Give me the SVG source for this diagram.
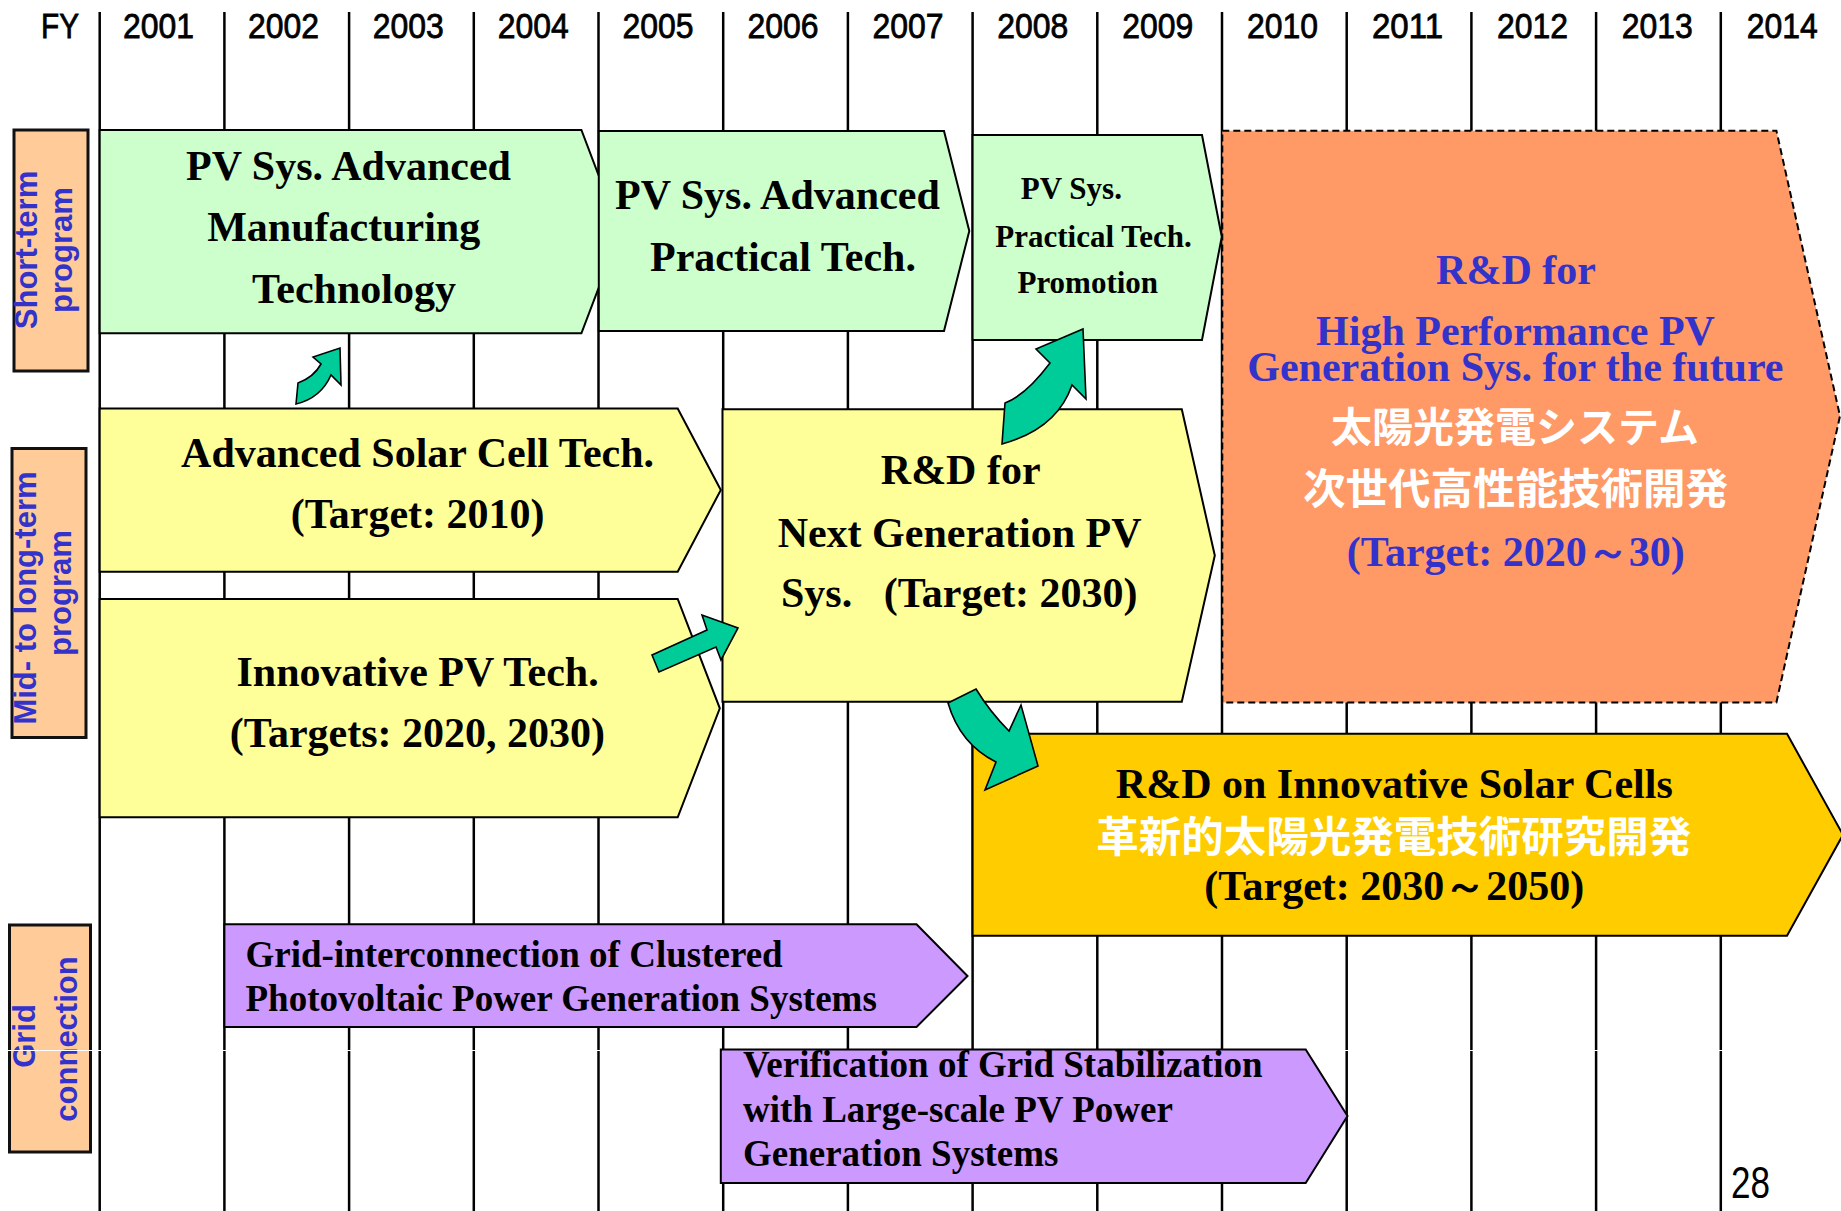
<svg xmlns="http://www.w3.org/2000/svg" width="1841" height="1211" viewBox="0 0 1841 1211">
  <style>
    .yr { font-family: "Liberation Sans", Arial, sans-serif; font-size: 35px; fill: #000; stroke: #000; stroke-width: 0.8; text-anchor: middle; }
    .gl { stroke: #000; stroke-width: 2.5; }
    .lane { fill: #FFCC99; stroke: #111; stroke-width: 3; }
    .lanetxt { font-family: "Liberation Sans", Arial, sans-serif; font-weight: bold; font-size: 31px; fill: #3333CC; text-anchor: middle; }
    .box { stroke: #000; stroke-width: 2; stroke-linejoin: miter; }
    .green { fill: #CCFFCC; }
    .yellow { fill: #FFFF99; }
    .orange { fill: #FF9966; stroke-dasharray: 7 4; }
    .gold { fill: #FFCC00; }
    .purple { fill: #CC99FF; }
    .tb { font-family: "Liberation Serif", "Times New Roman", serif; font-weight: bold; font-size: 42px; fill: #000; text-anchor: middle; }
    .tbs { font-size: 31px; }
    .tbp { font-size: 37px; text-anchor: start; }
    .blue { fill: #3333CC; }
    .jp { font-family: "Noto Sans CJK JP", "Noto Sans CJK SC", sans-serif; font-weight: bold; fill: #FFFFFF; text-anchor: middle; }
    .flow { fill: #00CC99; stroke: #000; stroke-width: 1.6; stroke-linejoin: miter; }
  </style>

  <rect x="0" y="0" width="1841" height="1211" fill="#FFFFFF"/>

  <!-- fiscal-year header -->
  <g id="year-header">
    <text class="yr" x="60" y="38" textLength="38" lengthAdjust="spacingAndGlyphs">FY</text>
    <text class="yr" x="158.5" y="38" textLength="71" lengthAdjust="spacingAndGlyphs">2001</text>
    <text class="yr" x="283.4" y="38" textLength="71" lengthAdjust="spacingAndGlyphs">2002</text>
    <text class="yr" x="408.3" y="38" textLength="71" lengthAdjust="spacingAndGlyphs">2003</text>
    <text class="yr" x="533.2" y="38" textLength="71" lengthAdjust="spacingAndGlyphs">2004</text>
    <text class="yr" x="658.1" y="38" textLength="71" lengthAdjust="spacingAndGlyphs">2005</text>
    <text class="yr" x="783.0" y="38" textLength="71" lengthAdjust="spacingAndGlyphs">2006</text>
    <text class="yr" x="907.9" y="38" textLength="71" lengthAdjust="spacingAndGlyphs">2007</text>
    <text class="yr" x="1032.8" y="38" textLength="71" lengthAdjust="spacingAndGlyphs">2008</text>
    <text class="yr" x="1157.7" y="38" textLength="71" lengthAdjust="spacingAndGlyphs">2009</text>
    <text class="yr" x="1282.6" y="38" textLength="71" lengthAdjust="spacingAndGlyphs">2010</text>
    <text class="yr" x="1407.5" y="38" textLength="71" lengthAdjust="spacingAndGlyphs">2011</text>
    <text class="yr" x="1532.4" y="38" textLength="71" lengthAdjust="spacingAndGlyphs">2012</text>
    <text class="yr" x="1657.3" y="38" textLength="71" lengthAdjust="spacingAndGlyphs">2013</text>
    <text class="yr" x="1782.2" y="38" textLength="71" lengthAdjust="spacingAndGlyphs">2014</text>
  </g>

  <!-- year dividers -->
  <g id="grid">
    <line class="gl" x1="99.7" y1="12" x2="99.7" y2="1211"/>
    <line class="gl" x1="224.4" y1="12" x2="224.4" y2="1211"/>
    <line class="gl" x1="349.1" y1="12" x2="349.1" y2="1211"/>
    <line class="gl" x1="473.8" y1="12" x2="473.8" y2="1211"/>
    <line class="gl" x1="598.5" y1="12" x2="598.5" y2="1211"/>
    <line class="gl" x1="723.2" y1="12" x2="723.2" y2="1211"/>
    <line class="gl" x1="847.9" y1="12" x2="847.9" y2="1211"/>
    <line class="gl" x1="972.6" y1="12" x2="972.6" y2="1211"/>
    <line class="gl" x1="1097.3" y1="12" x2="1097.3" y2="1211"/>
    <line class="gl" x1="1222.0" y1="12" x2="1222.0" y2="1211"/>
    <line class="gl" x1="1346.7" y1="12" x2="1346.7" y2="1211"/>
    <line class="gl" x1="1471.4" y1="12" x2="1471.4" y2="1211"/>
    <line class="gl" x1="1596.1" y1="12" x2="1596.1" y2="1211"/>
    <line class="gl" x1="1720.8" y1="12" x2="1720.8" y2="1211"/>
  </g>

  <!-- program lanes -->
  <g id="lane-short">
    <rect class="lane" x="14" y="130" width="74" height="241"/>
    <text class="lanetxt" transform="translate(36.5,250) rotate(-90)">Short-term</text>
    <text class="lanetxt" transform="translate(72,250) rotate(-90)">program</text>
  </g>
  <g id="lane-mid">
    <rect class="lane" x="12" y="448.5" width="74" height="289"/>
    <text class="lanetxt" transform="translate(36,598) rotate(-90)">Mid- to long-term</text>
    <text class="lanetxt" transform="translate(71,593) rotate(-90)">program</text>
  </g>
  <g id="lane-grid">
    <rect class="lane" x="9.5" y="925" width="81" height="227"/>
    <text class="lanetxt" transform="translate(34.5,1036) rotate(-90)">Grid</text>
    <text class="lanetxt" transform="translate(77,1039) rotate(-90)">connection</text>
  </g>

  <line x1="0" y1="1050.5" x2="1841" y2="1050.5" stroke="#FFFFFF" stroke-width="1.2"/>

  <!-- short-term projects -->
  <g id="pv-manufacturing">
    <polygon class="box green" points="99.7,130 581.4,130 620,231.7 581.4,333.3 99.7,333.3"/>
    <text class="tb" x="348.5" y="180">PV Sys. Advanced</text>
    <text class="tb" x="343.7" y="240.7">Manufacturing</text>
    <text class="tb" x="354" y="302.7">Technology</text>
  </g>
  <g id="pv-practical">
    <polygon class="box green" points="598.8,131 944,131 969.3,231 944,331 598.8,331"/>
    <text class="tb" x="777.4" y="209.3">PV Sys. Advanced</text>
    <text class="tb" x="783" y="270.7">Practical Tech.</text>
  </g>
  <g id="pv-promotion">
    <polygon class="box green" points="972.6,135 1202,135 1221.8,236.7 1202,340 972.6,340"/>
    <text class="tb tbs" x="1071.4" y="199.3">PV Sys.</text>
    <text class="tb tbs" x="1093.5" y="246.7">Practical Tech.</text>
    <text class="tb tbs" x="1087.8" y="292.7">Promotion</text>
  </g>
  <g id="high-performance">
    <polygon class="box orange" points="1222.3,130.7 1776.4,130.7 1840,416 1776.4,702.5 1222.3,702.5"/>
    <text class="tb blue" x="1516" y="283.8">R&amp;D for</text>
    <text class="tb blue" x="1515.5" y="345">High Performance PV</text>
    <text class="tb blue" x="1515.4" y="381.4">Generation Sys. for the future</text>
    <text class="jp" x="1515" y="442" font-size="41">太陽光発電システム</text>
    <text class="jp" x="1515.6" y="504" font-size="42.5">次世代高性能技術開発</text>
    <text class="tb blue" x="1515.7" y="565.8">(Target: 2020～30)</text>
  </g>

  <!-- mid- to long-term projects -->
  <g id="advanced-solar-cell">
    <polygon class="box yellow" points="99.7,408.6 677.7,408.6 720.8,490 677.7,571.7 99.7,571.7"/>
    <text class="tb" x="417.6" y="467.3">Advanced Solar Cell Tech.</text>
    <text class="tb" x="417.6" y="528.3">(Target: 2010)</text>
  </g>
  <g id="innovative-pv">
    <polygon class="box yellow" points="99.7,599 677.7,599 719.8,708.3 677.7,817.3 99.7,817.3"/>
    <text class="tb" x="417.6" y="686">Innovative PV Tech.</text>
    <text class="tb" x="417.4" y="746.7">(Targets: 2020, 2030)</text>
  </g>
  <g id="next-generation">
    <polygon class="box yellow" points="722.5,409.3 1181.8,409.3 1214.8,555.5 1181.8,701.7 722.5,701.7"/>
    <text class="tb" x="960.7" y="484">R&amp;D for</text>
    <text class="tb" x="959.6" y="546.7">Next Generation PV</text>
    <text class="tb" x="959.3" y="606.7" xml:space="preserve">Sys.   (Target: 2030)</text>
  </g>
  <g id="innovative-cells">
    <polygon class="box gold" points="972.6,733.8 1787,733.8 1843,834.8 1787,935.8 972.6,935.8"/>
    <text class="tb" x="1394.3" y="798.3">R&amp;D on Innovative Solar Cells</text>
    <text class="jp" x="1393.7" y="852" font-size="42.5">革新的太陽光発電技術研究開発</text>
    <text class="tb" x="1394.3" y="900">(Target: 2030～2050)</text>
  </g>

  <!-- grid-connection projects -->
  <g id="clustered-pv">
    <polygon class="box purple" points="224.4,924.3 916.5,924.3 967.5,976 916.5,1027 224.4,1027"/>
    <text class="tb tbp" x="245.5" y="966.7">Grid-interconnection of Clustered</text>
    <text class="tb tbp" x="245.5" y="1011">Photovoltaic Power Generation Systems</text>
  </g>
  <g id="grid-stabilization">
    <polygon class="box purple" points="720.8,1049.5 1305.7,1049.5 1347.5,1116 1305.7,1183 720.8,1183"/>
    <text class="tb tbp" x="743" y="1076.7">Verification of Grid Stabilization</text>
    <text class="tb tbp" x="743" y="1121.7">with Large-scale PV Power</text>
    <text class="tb tbp" x="743" y="1166">Generation Systems</text>
  </g>

  <!-- hand-over arrows between projects -->
  <g id="connectors">
    <path class="flow" d="M 296,404 L 298,383 Q 314,377 321,364 L 313,357 L 340,348 L 341,385 L 331,375 Q 321,398 296,404 Z"/>
    <path class="flow" d="M 1002,444 L 1005,403 Q 1026,395 1050,363 L 1036,349 L 1083,329 L 1086,399 L 1072,385 Q 1057,429 1002,444 Z"/>
    <path class="flow" d="M 652,655 L 707,630 L 702,615 L 738,628 L 721,660 L 716,647 L 659,672 Z"/>
    <path class="flow" d="M 948,703 Q 960,744 996,762 L 985,790 L 1038,766 L 1021,705 L 1009,731 Q 990,712 976,689 Z"/>
  </g>

  <text id="page-number" x="1731" y="1198" font-family="'Liberation Sans', Arial, sans-serif" font-size="44" fill="#000" textLength="39" lengthAdjust="spacingAndGlyphs">28</text>
</svg>
